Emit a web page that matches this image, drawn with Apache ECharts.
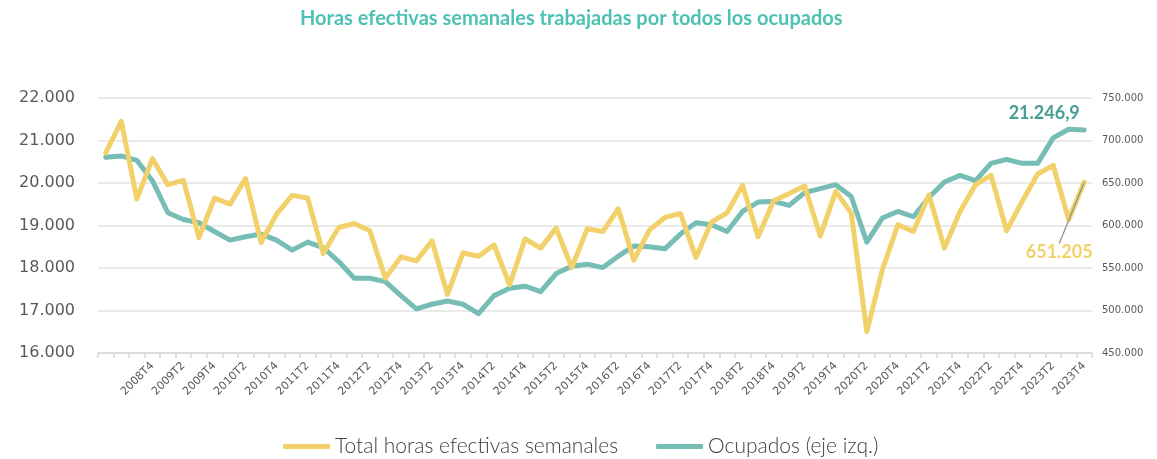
<!DOCTYPE html>
<html>
<head>
<meta charset="utf-8">
<script src="https://cdn.jsdelivr.net/npm/echarts@6/dist/echarts.min.js"></script>
<style>
  html, body { margin: 0; padding: 0; background: #fff; }
  #chart { width: 1157px; height: 459px; }
</style>
</head>
<body>
<div id="chart"></div>
<script>
// trimestres 2008T1 .. 2023T4
const years = [2008, 2009, 2010, 2011, 2012, 2013, 2014, 2015, 2016, 2017, 2018, 2019, 2020, 2021, 2022, 2023];
const quarters = ["T1", "T2", "T3", "T4"];
const categories = [];
years.forEach(y => quarters.forEach(q => categories.push(y + q)));

// Total horas efectivas semanales (miles, eje dcho.)
const horas = [
  685400, 722600, 631100, 678700, 648000, 653100, 585900, 632300,
  625200, 655100, 580000, 613400, 635400, 632300, 567000, 597600,
  602400, 593800, 538000, 563100, 558400, 582000, 519100, 567800,
  563900, 577200, 530100, 584300, 573400, 596900, 550500, 596100,
  592900, 619700, 559200, 594600, 609400, 614200, 562300, 604000,
  615000, 647200, 586700, 629100, 637700, 646500, 587500, 640100,
  614600, 475000, 547800, 600800, 592900, 636200, 573400, 616500,
  648000, 659000, 593800, 628300, 660600, 670800, 606700, 651205
];

// Ocupados (miles, eje izq.)
const ocupados = [
  20604, 20637, 20533, 20055, 19300, 19142, 19064, 18859,
  18656, 18734, 18798, 18656, 18421, 18609, 18482, 18152,
  17760, 17760, 17680, 17350, 17036, 17147, 17225, 17147,
  16926, 17350, 17525, 17572, 17444, 17869, 18043, 18090,
  18010, 18279, 18515, 18498, 18451, 18798, 19064, 19017,
  18859, 19331, 19552, 19567, 19472, 19772, 19866, 19960,
  19684, 18609, 19175, 19331, 19206, 19661, 20024, 20180,
  20055, 20463, 20557, 20463, 20463, 21061, 21264, 21246.9
];

const leftTicks = { min: 16000, max: 22000, step: 1000 };
const rightTicks = { min: 450000, max: 750000, step: 50000 };

const YELLOW = "#F2D16B";
const TEAL = "#76BDB6";

// formato español: 21.246,9
const fmt = v => {
  const parts = String(v).split(".");
  return parts[0].replace(/\B(?=(\d{3})+(?!\d))/g, ".") + (parts[1] ? "," + parts[1] : "");
};

const last = categories.length - 1;

const horasData = horas.map((v, i) => i === last ? {
  value: v,
  label: {
    show: true,
    position: "top",
    formatter: p => fmt(p.value),
    color: YELLOW,
    fontFamily: "Lato",
    fontWeight: "bold",
    fontSize: 18
  },
  labelLine: { show: true, lineStyle: { color: "#8c8c8c", width: 1.2 } }
} : v);

const ocupadosData = ocupados.map((v, i) => i === last ? {
  value: v,
  label: {
    show: true,
    position: "top",
    offset: [-40, -2],
    formatter: p => fmt(p.value),
    color: "#459D93",
    fontFamily: "Lato",
    fontWeight: "bold",
    fontSize: 18
  }
} : v);

const chart = echarts.init(document.getElementById("chart"), null, { renderer: "canvas" });

chart.setOption({
  backgroundColor: "#fff",
  animation: false,
  title: {
    text: "Horas efectivas semanales trabajadas por todos los ocupados",
    left: 295,
    top: 4,
    textStyle: { color: "#4DC2B4", fontFamily: "Lato", fontWeight: "bold", fontSize: 20 }
  },
  legend: {
    left: 278,
    top: 431,
    icon: "roundRect",
    itemWidth: 47,
    itemHeight: 5,
    itemGap: 38,
    textStyle: { color: "#404040", fontFamily: "Lato", fontWeight: 300, fontSize: 21 },
    data: ["Total horas efectivas semanales", "Ocupados (eje izq.)"]
  },
  grid: { left: 98, right: 65, top: 98, height: 255 },
  xAxis: {
    type: "category",
    data: categories,
    boundaryGap: true,
    axisLine: { lineStyle: { color: "#D9D9D9", width: 1.5 } },
    axisTick: { show: true, interval: 0, length: 5, lineStyle: { color: "#D9D9D9", width: 1.5 } },
    axisLabel: {
      interval: idx => idx >= 3 && idx % 2 === 1,
      rotate: 45,
      margin: 11,
      color: "#595959",
      fontFamily: "DejaVu Sans",
      fontSize: 11
    }
  },
  yAxis: [
    {
      type: "value",
      min: leftTicks.min,
      max: leftTicks.max,
      interval: leftTicks.step,
      axisLine: { show: false },
      axisTick: { show: false },
      splitLine: { lineStyle: { color: "#E3E3E3", width: 1.5 } },
      axisLabel: { formatter: fmt, margin: 23, color: "#595959", fontFamily: "DejaVu Sans", fontSize: 16 }
    },
    {
      type: "value",
      min: rightTicks.min,
      max: rightTicks.max,
      interval: rightTicks.step,
      axisLine: { show: false },
      axisTick: { show: false },
      splitLine: { show: false },
      axisLabel: { formatter: fmt, margin: 10, color: "#595959", fontFamily: "DejaVu Sans", fontSize: 10 }
    }
  ],
  series: [
    {
      name: "Total horas efectivas semanales",
      type: "line",
      yAxisIndex: 1,
      data: horasData,
      symbol: "circle",
      symbolSize: 1,
      showSymbol: true,
      showAllSymbol: true,
      z: 3,
      color: YELLOW,
      itemStyle: { color: YELLOW },
      lineStyle: { color: YELLOW, width: 5, cap: "round", join: "round" },
      labelLayout: p => p.dataIndex === last ? { dx: -25, dy: 85 } : {}
    },
    {
      name: "Ocupados (eje izq.)",
      type: "line",
      yAxisIndex: 0,
      data: ocupadosData,
      symbol: "circle",
      symbolSize: 1,
      showSymbol: true,
      showAllSymbol: true,
      z: 2,
      color: TEAL,
      itemStyle: { color: TEAL },
      lineStyle: { color: TEAL, width: 5, cap: "round", join: "round" }
    }
  ]
});
</script>
</body>
</html>
